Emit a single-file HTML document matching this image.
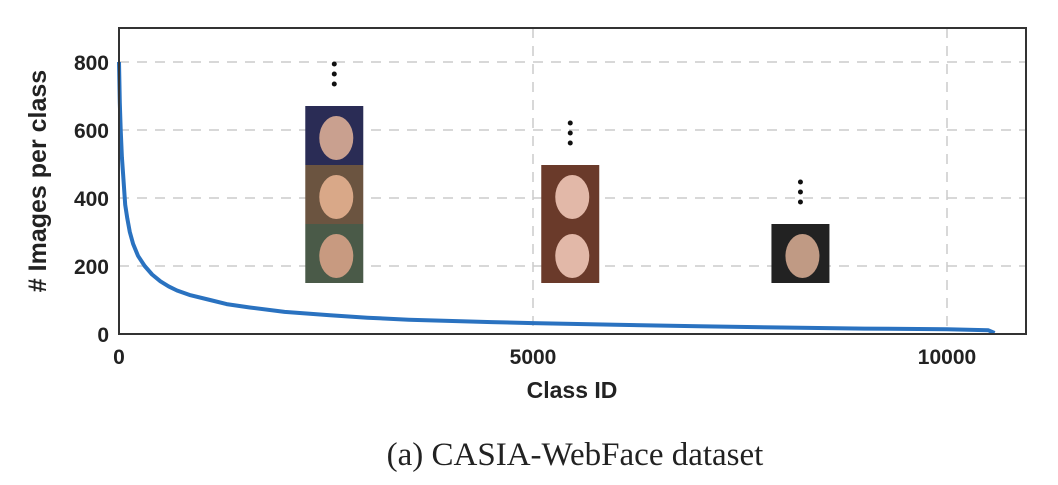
<!DOCTYPE html>
<html><head><meta charset="utf-8"><style>
body{margin:0;background:#fff;width:1058px;height:480px;overflow:hidden}
svg text{font-family:"Liberation Sans",Arial,sans-serif;font-weight:bold;fill:#222}
</style></head><body>
<svg id="chart" width="1058" height="480" viewBox="0 0 1058 480" xmlns="http://www.w3.org/2000/svg">
<g id="grid"></g>
<g id="faces"></g>
<path id="curve" fill="none" stroke="#2a72c0" stroke-width="4" stroke-linejoin="round"/>
<rect x="119" y="28" width="907" height="306" fill="none" stroke="#333" stroke-width="2"/>
<g id="ticks"></g>
<text x="572" y="398" font-size="23" text-anchor="middle">Class ID</text>
<text transform="translate(46,181) rotate(-90)" font-size="25" text-anchor="middle"># Images per class</text>
<text x="575" y="465" font-size="33" text-anchor="middle" style="font-family:'Liberation Serif',serif;font-weight:normal">(a)  CASIA-WebFace dataset</text>
</svg>
<script>
const classIds=[0,10,20,35,50,75,100,130,170,230,310,400,500,600,700,850,1100,1300,1580,2000,2550,3000,3500,4500,5000,6000,7000,8000,9000,10000,10500,10575];
const counts=[800,680,600,520,470,380,340,300,265,230,200,175,155,140,128,115,100,88,78,65,55,48,42,35,32,27,23,19,16,14,11,3];
const yTicks=[0,200,400,600,800];
const xTicks=[0,5000,10000];
const faceStacks=[{id:2600,n:3},{id:5450,n:2},{id:8230,n:1}];
const X=v=>119+v*0.0828, Y=v=>334-v*0.34;
const NS="http://www.w3.org/2000/svg";
const g=document.getElementById('grid'),t=document.getElementById('ticks'),f=document.getElementById('faces');
function mk(tag,a,p){const e=document.createElementNS(NS,tag);for(const k in a)e.setAttribute(k,a[k]);p.appendChild(e);return e;}
yTicks.forEach(v=>{if(v>0){const l=mk('line',{x1:119,x2:1026,y1:Y(v),y2:Y(v),stroke:'#ccc','stroke-dasharray':'10,8','stroke-width':1.5},g);

}
const tx=mk('text',{x:109,y:Y(v)+8,'font-size':21,'text-anchor':'end'},t);tx.textContent=v;

});
xTicks.forEach(v=>{if(v>0){const l=mk('line',{x1:X(v),x2:X(v),y1:28,y2:334,stroke:'#ccc','stroke-dasharray':'10,8','stroke-width':1.5},g);

}
const tx=mk('text',{x:X(v),y:364,'font-size':21,'text-anchor':'middle'},t);tx.textContent=v;

});
const cols=[['#c9a08f','#2a2c55'],['#d9a888','#6b5440'],['#c89a80','#4a5a48']];
faceStacks.forEach((s,si)=>{const cx=X(s.id);for(let i=0;i<s.n;i++){const y0=283-(i+1)*59;const c=si==2?['#c09a84','#222']:si==1?['#e2b8a8','#6a3a2a']:cols[2-i];
const r=mk('rect',{x:cx-29,y:y0,width:58,height:59,fill:c[1]},f);


mk('ellipse',{cx:cx+2,cy:y0+32,rx:17,ry:22,fill:c[0]},f);}
const top=283-s.n*59;[0,1,2].forEach(k=>{const d=mk('circle',{cx:cx,cy:top-22-k*10,r:2.5,fill:'#111'},f);

});});
document.getElementById('curve').setAttribute('d',classIds.map((v,i)=>(i?'L':'M')+X(v).toFixed(1)+','+Y(counts[i]).toFixed(1)).join(''));
</script>
</body></html>
